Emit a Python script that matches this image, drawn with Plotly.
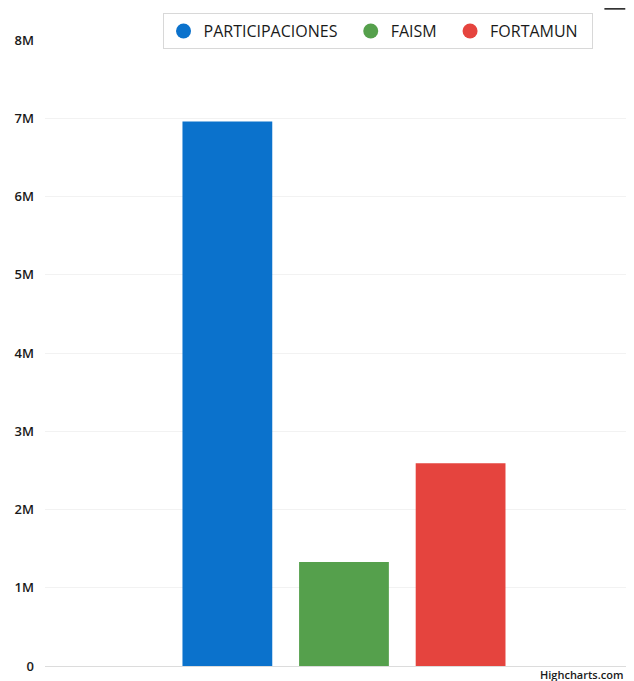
import plotly.graph_objects as go

# single category, one bar per fund
category = [""]
series_names = ["PARTICIPACIONES", "FAISM", "FORTAMUN"]
series_values = [6960000, 1330000, 2590000]
series_colors = ["#0b72cc", "#55a04c", "#e5443e"]
tick_vals = [0, 1e6, 2e6, 3e6, 4e6, 5e6, 6e6, 7e6, 8e6]
tick_text = ["0", "1M", "2M", "3M", "4M", "5M", "6M", "7M", "8M"]

fig = go.Figure()
for name, val, color in zip(series_names, series_values, series_colors):
    fig.add_trace(go.Bar(
        x=category, y=[val], name=name,
        marker=dict(color=color, line=dict(width=0)),
        showlegend=False,
    ))

# round legend symbols like the highcharts legend
for name, color in zip(series_names, series_colors):
    fig.add_trace(go.Scatter(
        x=[None], y=[None], name=name + "\u00a0\u00a0", mode="markers",
        marker=dict(color=color, size=15, symbol="circle"),
    ))

fig.update_layout(
    width=634, height=681,
    paper_bgcolor="white", plot_bgcolor="white",
    margin=dict(l=37, r=0, t=32, b=23),
    barmode="group",
    bargap=0.414,
    bargroupgap=0.23,
    font=dict(family="Open Sans, DejaVu Sans, sans-serif", color="#222222"),
    showlegend=True,
    legend=dict(
        orientation="h",
        x=0.557, xanchor="center",
        y=1.043, yanchor="top",
        bgcolor="white",
        bordercolor="#d8d8d8", borderwidth=1,
        font=dict(size=16, color="#1a1a1a", weight=500),
        itemwidth=30,
        traceorder="normal",
    ),
    xaxis=dict(
        range=[-0.5008, 0.4992],
        showticklabels=False,
        showgrid=False,
        showline=False,
        zeroline=False,
        fixedrange=True,
    ),
    yaxis=dict(
        range=[0, 8e6],
        tickvals=tick_vals,
        ticktext=tick_text,
        tickfont=dict(size=13, color="#1a1a1a", weight=600),
        showgrid=True,
        gridcolor="#f2f2f2",
        gridwidth=1,
        zeroline=True,
        zerolinecolor="#dcdcdc",
        zerolinewidth=1,
        ticks="",
        ticklabelstandoff=10,
    ),
    annotations=[dict(
        text="Highcharts.com",
        xref="paper", yref="paper",
        x=0.972, y=0.001, xanchor="right", yanchor="top",
        showarrow=False,
        font=dict(size=11, color="#1a1a1a", weight=600),
    )],
    shapes=[dict(
        type="line", xref="paper", yref="paper",
        x0=0.937, x1=0.972, y0=1.05, y1=1.05,
        line=dict(color="#333333", width=2),
    )],
)

fig.write_html("out.html")
